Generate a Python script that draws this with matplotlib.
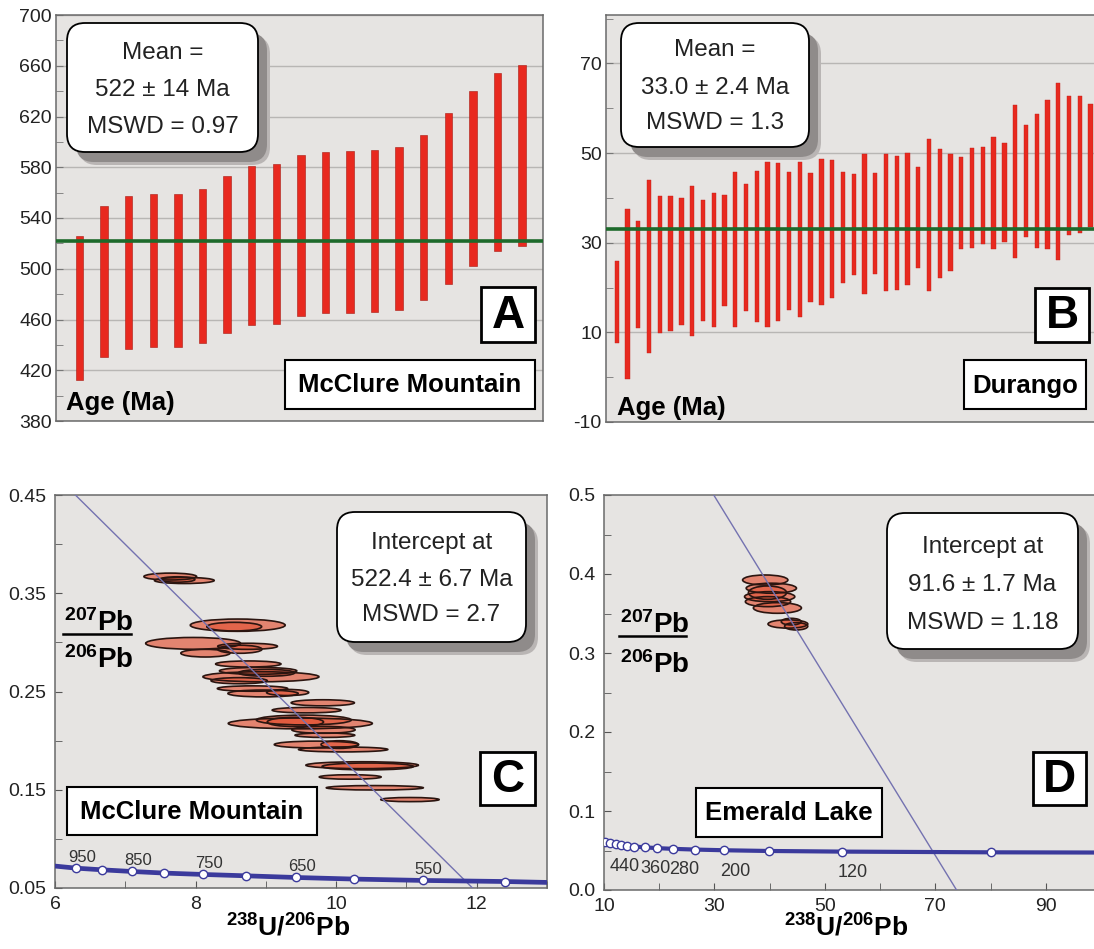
import matplotlib
matplotlib.use('Agg')
import matplotlib.pyplot as plt
from matplotlib.patches import FancyBboxPatch, Ellipse, Rectangle
from matplotlib.lines import Line2D
from matplotlib.transforms import Affine2D
from matplotlib.ticker import FixedLocator, FormatStrFormatter

plt.rcParams['font.family'] = ['Liberation Sans', 'DejaVu Sans']
plt.rcParams['mathtext.fontset'] = 'custom'
plt.rcParams['mathtext.rm'] = 'Liberation Sans:bold'
plt.rcParams['mathtext.bf'] = 'Liberation Sans:bold'
plt.rcParams['mathtext.default'] = 'bf'
plt.rcParams['axes.unicode_minus'] = False

# ---------------- data ----------------
# Panel A: McClure Mountain single-grain ages (Ma), 2-sigma ranges
a_low = [412.2, 430.2, 436.5, 438.1, 438.6, 441.8, 449.7, 455.8, 456.8, 462.9,
         465.0, 465.5, 465.8, 467.4, 475.3, 488.3, 502.5, 513.9, 518.3]
a_high = [525.7, 549.5, 557.4, 558.7, 558.7, 562.7, 573.3, 581.2, 582.2, 589.6,
          592.0, 593.1, 593.3, 596.0, 605.5, 622.4, 640.3, 654.6, 660.4]
a_mean = 522
a_yticks = [380, 420, 460, 500, 540, 580, 620, 660, 700]
a_yminor = [400, 440, 480, 520, 560, 600, 640, 680]

# Panel B: Durango ages (Ma)
b_low = [7.6, -0.3, 10.9, 5.3, 9.8, 10.2, 11.7, 9.2, 12.6, 11.3, 15.8, 11.1, 14.8, 12.2,
         11.2, 12.6, 14.9, 13.4, 16.7, 16.1, 17.7, 21.0, 22.9, 18.6, 23.0, 19.2, 19.5,
         20.5, 24.4, 19.3, 22.1, 23.6, 28.5, 28.9, 29.6, 28.5, 30.2, 26.6, 31.3, 28.9,
         28.5, 26.1, 31.7, 32.1, 33.5]
b_high = [25.9, 37.5, 34.9, 44.0, 40.5, 40.5, 39.9, 42.7, 39.5, 41.0, 40.7, 45.7, 43.1,
          46.1, 48.1, 47.7, 45.7, 48.1, 45.5, 48.7, 48.5, 45.7, 45.3, 49.8, 45.6, 49.7,
          49.4, 50.0, 47.0, 53.2, 50.9, 49.7, 49.1, 51.1, 51.3, 53.6, 52.2, 60.8, 56.2,
          58.8, 61.9, 65.7, 62.8, 62.7, 61.0]
b_mean = 33.0
b_yticks = [-10, 10, 30, 50, 70]
b_yminor = [0, 20, 40, 60, 80]

# Panel C: Tera-Wasserburg ellipses (238U/206Pb, 207Pb/206Pb, width, height)
c_ell_x = [7.64, 7.84, 7.74, 8.60, 8.55, 7.965, 8.74, 8.14, 8.63, 8.75, 8.93, 8.89, 9.01,
           8.62, 8.81, 8.96, 9.31, 9.81, 9.58, 9.49, 9.54, 9.42, 9.82, 9.84, 9.72, 10.10,
           10.05, 10.37, 10.45, 10.20, 10.55, 11.05]
c_ell_y = [0.367, 0.363, 0.364, 0.3175, 0.316, 0.299, 0.296, 0.289, 0.293, 0.278, 0.265,
           0.271, 0.269, 0.261, 0.253, 0.248, 0.249, 0.2385, 0.231, 0.2175, 0.221, 0.219,
           0.211, 0.2055, 0.196, 0.191, 0.196, 0.175, 0.1737, 0.163, 0.152, 0.140]
c_ell_w = [0.75, 0.85, 0.50, 1.35, 0.78, 1.35, 0.85, 0.70, 0.63, 0.93, 1.65, 1.10, 0.80,
           0.80, 1.00, 1.00, 0.60, 0.90, 0.98, 2.05, 1.35, 0.80, 0.90, 0.85, 1.20, 1.27,
           0.53, 1.60, 1.30, 0.88, 1.38, 0.83]
c_ell_h = [0.0070, 0.0062, 0.0055, 0.0125, 0.0088, 0.0120, 0.0062, 0.0078, 0.0082, 0.0062,
           0.0102, 0.0070, 0.0070, 0.0062, 0.0055, 0.0070, 0.0062, 0.0062, 0.0055, 0.0110,
           0.0100, 0.0095, 0.0070, 0.0045, 0.0070, 0.0050, 0.0078, 0.0070, 0.0070, 0.0045,
           0.0045, 0.0042]
c_disc_x = [6.29, 11.94]
c_disc_y = [0.45, 0.05]
c_curve_x = [5.96, 6.30, 6.67, 7.10, 7.55, 8.10, 8.72, 9.43, 10.25, 11.23, 12.40, 13.05]
c_curve_y = [0.0726, 0.0702, 0.0685, 0.0668, 0.0652, 0.0638, 0.0624, 0.0607, 0.0591,
             0.0577, 0.0566, 0.0556]
c_tick_age = [950, 900, 850, 800, 750, 700, 650, 600, 550, 500]
c_tick_x = [6.30, 6.67, 7.10, 7.55, 8.10, 8.72, 9.43, 10.25, 11.23, 12.40]
c_tick_y = [0.0702, 0.0685, 0.0668, 0.0652, 0.0638, 0.0624, 0.0607, 0.0591, 0.0577, 0.0566]
c_label_ages = [950, 850, 750, 650, 550]
c_xticks = [6, 8, 10, 12]
c_xminor = [7, 9, 11, 13]
c_yticks = [0.05, 0.15, 0.25, 0.35, 0.45]
c_yminor = [0.10, 0.20, 0.30, 0.40]

# Panel D: Emerald Lake
d_ell_x = [39.2, 40.3, 40.0, 39.7, 41.4, 39.6, 43.3, 43.9, 44.8]
d_ell_y = [0.3924, 0.382, 0.3713, 0.365, 0.357, 0.3764, 0.3367, 0.3397, 0.3338]
d_ell_w = [8.2, 9.1, 9.1, 8.2, 8.7, 6.9, 7.2, 3.6, 4.2]
d_ell_h = [0.0127, 0.0127, 0.0127, 0.0127, 0.0135, 0.0169, 0.0105, 0.0084, 0.0093]
d_disc_x = [29.87, 73.84]
d_disc_y = [0.5, 0.0]
d_tick_age = [600, 560, 520, 480, 440, 400, 360, 320, 280, 240, 200, 160, 120, 80]
d_tick_x = [10.2, 11.1, 12.1, 13.0, 14.1, 15.5, 17.4, 19.6, 22.5, 26.4, 31.8, 39.8, 53.1, 80.0]
d_tick_y = [0.0610, 0.0595, 0.0583, 0.0572, 0.0561, 0.0550, 0.0540, 0.0530, 0.0521,
            0.0512, 0.0503, 0.0494, 0.0486, 0.0477]
d_curve_x = d_tick_x + [101.0]
d_curve_y = d_tick_y + [0.0474]
d_label_ages = [440, 360, 280, 200, 120]
d_xticks = [10, 30, 50, 70, 90]
d_xminor = [20, 40, 60, 80, 100]
d_yticks = [0.0, 0.1, 0.2, 0.3, 0.4, 0.5]
d_yminor = [0.05, 0.15, 0.25, 0.35, 0.45]

# ---------------- figure ----------------
W, H, DPI = 1094, 949, 100
fig = plt.figure(figsize=(W / DPI, H / DPI), dpi=DPI)
fig.patch.set_facecolor('white')
PX = Affine2D().scale(1 / DPI, -1 / DPI).translate(0, H / DPI) + fig.dpi_scale_trans

BG = '#e6e4e2'
RED = '#e8291f'
GREEN = '#1d6a2b'
CONC = '#3b3a9c'
DISC = '#7472b0'
TXT = '#222222'
TICK_FS = 14


def add_ax(l, r, t, b):
    ax = fig.add_axes([l / W, 1 - b / H, (r - l) / W, (b - t) / H])
    ax.set_facecolor(BG)
    for s in ax.spines.values():
        s.set_color('#6a6a6a')
        s.set_linewidth(1.1)
    return ax


def info_box(x0, y0, x1, y1, lines, ys, fs=17.5):
    w, h = x1 - x0, y1 - y0
    for dx, dy, c in [(12, 13, '#b9b5b4'), (9, 10, '#8f8b8a')]:
        fig.add_artist(FancyBboxPatch((x0 + dx, y0 + dy), w, h,
                                      boxstyle='round,pad=0,rounding_size=18',
                                      transform=PX, fc=c, ec='none', zorder=5))
    fig.add_artist(FancyBboxPatch((x0, y0), w, h, boxstyle='round,pad=0,rounding_size=18',
                                  transform=PX, fc='white', ec='black', lw=1.3, zorder=6))
    for s, y in zip(lines, ys):
        fig.text((x0 + x1) / 2, y, s, transform=PX, ha='center', va='center',
                 fontsize=fs, color=TXT, zorder=7)


def rect_label(x0, y0, x1, y1, s, fs, lw):
    fig.add_artist(Rectangle((x0, y0), x1 - x0, y1 - y0, transform=PX, fc='white',
                             ec='black', lw=lw, zorder=5))
    fig.text((x0 + x1) / 2, (y0 + y1) / 2 + 1, s, transform=PX, ha='center', va='center',
             fontsize=fs, fontweight='bold', color='black', zorder=6)


def frac_label(x0, x1, yline, yb_top, yb_bot):
    xc = (x0 + x1) / 2
    fig.text(xc + 2, yb_top, r'$^{207}$Pb', transform=PX, ha='center', va='baseline',
             fontsize=20, fontweight='bold', zorder=6)
    fig.text(xc + 2, yb_bot, r'$^{206}$Pb', transform=PX, ha='center', va='baseline',
             fontsize=20, fontweight='bold', zorder=6)
    fig.add_artist(Line2D([x0, x1], [yline, yline], transform=PX, color='black', lw=1.8))


def draw_ellipses(ax, xs, ys, ws, hs):
    for x, y, w, h in zip(xs, ys, ws, hs):
        ax.add_patch(Ellipse((x, y), w, h, fc='#e2573a', alpha=0.68, ec='none', zorder=3))
        ax.add_patch(Ellipse((x, y), w, h, fc='none', ec='#2b1510', lw=1.2, zorder=3.5))


# ---- Panel A ----
axA = add_ax(56, 543, 15, 421)
xa = list(range(1, len(a_low) + 1))
axA.bar(xa, [h - l for l, h in zip(a_low, a_high)], bottom=a_low, width=0.3,
        color=RED, edgecolor='#a81a12', lw=0.4, zorder=3)
axA.axhline(a_mean, color=GREEN, lw=2.6, zorder=4)
axA.set_xlim(0.04, 19.85)
axA.set_ylim(380, 700)
axA.yaxis.set_major_locator(FixedLocator(a_yticks))
axA.yaxis.set_minor_locator(FixedLocator(a_yminor))
axA.yaxis.grid(True, which='major', color='#b8b6b4', lw=1)
axA.set_axisbelow(True)
axA.tick_params(axis='y', which='both', direction='in', length=5, color='#777',
                labelsize=TICK_FS, labelcolor=TXT, pad=3)
axA.tick_params(axis='x', bottom=False, labelbottom=False)
axA.text(0.02, 0.045, 'Age (Ma)', transform=axA.transAxes, fontsize=18.5,
         fontweight='bold', ha='left', va='center', zorder=6)

# ---- Panel B ----
axB = add_ax(606, 1097, 15, 422)
xb = list(range(1, len(b_low) + 1))
axB.bar(xb, [h - l for l, h in zip(b_low, b_high)], bottom=b_low, width=0.4,
        color=RED, edgecolor='#c0201a', lw=0.3, zorder=3)
axB.axhline(b_mean, color=GREEN, lw=2.6, zorder=4)
axB.set_xlim(0, 45.6)
axB.set_ylim(-10, 80.8)
axB.yaxis.set_major_locator(FixedLocator(b_yticks))
axB.yaxis.set_minor_locator(FixedLocator(b_yminor))
axB.yaxis.grid(True, which='major', color='#b8b6b4', lw=1)
axB.set_axisbelow(True)
axB.tick_params(axis='y', which='both', direction='in', length=5, color='#777',
                labelsize=TICK_FS, labelcolor=TXT, pad=3)
axB.tick_params(axis='x', bottom=False, labelbottom=False)
axB.text(0.023, 0.035, 'Age (Ma)', transform=axB.transAxes, fontsize=18.5,
         fontweight='bold', ha='left', va='center', zorder=6)

# ---- Panel C ----
axC = add_ax(55, 547, 495, 888)
axC.set_xlim(6, 13)
axC.set_ylim(0.05, 0.45)
draw_ellipses(axC, c_ell_x, c_ell_y, c_ell_w, c_ell_h)
axC.plot(c_disc_x, c_disc_y, color=DISC, lw=1.0, zorder=4)
axC.plot(c_curve_x, c_curve_y, color=CONC, lw=3.4, zorder=5, solid_capstyle='butt')
axC.plot(c_tick_x, c_tick_y, 'o', ms=6, mfc='white', mec=CONC, mew=1.0, zorder=6)
for age, x, y in zip(c_tick_age, c_tick_x, c_tick_y):
    if age in c_label_ages:
        axC.annotate(str(age), (x, y), xytext=(6, 11), textcoords='offset pixels',
                     ha='center', va='center', fontsize=12, color='#333333', zorder=7)
axC.xaxis.set_major_locator(FixedLocator(c_xticks))
axC.xaxis.set_minor_locator(FixedLocator(c_xminor))
axC.yaxis.set_major_locator(FixedLocator(c_yticks))
axC.yaxis.set_minor_locator(FixedLocator(c_yminor))
axC.yaxis.set_major_formatter(FormatStrFormatter('%.2f'))
axC.tick_params(which='both', direction='in', length=5, color='#555',
                labelsize=TICK_FS, labelcolor=TXT, pad=6)

# ---- Panel D ----
axD = add_ax(604, 1101, 495, 890)
axD.set_xlim(10, 100)
axD.set_ylim(0.0, 0.5)
draw_ellipses(axD, d_ell_x, d_ell_y, d_ell_w, d_ell_h)
axD.plot(d_disc_x, d_disc_y, color=DISC, lw=1.0, zorder=4)
axD.plot(d_curve_x, d_curve_y, color=CONC, lw=3.0, zorder=5, solid_capstyle='butt')
axD.plot(d_tick_x, d_tick_y, 'o', ms=6, mfc='white', mec=CONC, mew=1.0, zorder=6)
for age, x, y in zip(d_tick_age, d_tick_x, d_tick_y):
    if age in d_label_ages:
        dx = -2 if age == 440 else 11
        axD.annotate(str(age), (x, y), xytext=(dx, -21), textcoords='offset pixels',
                     ha='center', va='center', fontsize=13, color='#333333', zorder=7)
axD.xaxis.set_major_locator(FixedLocator(d_xticks))
axD.xaxis.set_minor_locator(FixedLocator(d_xminor))
axD.yaxis.set_major_locator(FixedLocator(d_yticks))
axD.yaxis.set_minor_locator(FixedLocator(d_yminor))
axD.yaxis.set_major_formatter(FormatStrFormatter('%.1f'))
axD.tick_params(which='both', direction='in', length=5, color='#555',
                labelsize=TICK_FS, labelcolor=TXT, pad=6)

# ---- overlays (pixel coordinates) ----
info_box(67, 23, 258, 152, ['Mean =', '522 ± 14 Ma', 'MSWD = 0.97'], [53, 90, 127])
info_box(621, 23, 809, 147, ['Mean =', '33.0 ± 2.4 Ma', 'MSWD = 1.3'], [50, 88, 123])
info_box(337, 512, 526, 642, ['Intercept at', '522.4 ± 6.7 Ma', 'MSWD = 2.7'],
         [543, 580, 615])
info_box(887, 513, 1078, 649, ['Intercept at', '91.6 ± 1.7 Ma', 'MSWD = 1.18'],
         [547, 585, 623])

rect_label(481, 287, 535, 342, 'A', 33, 2.0)
rect_label(1035, 288, 1089, 342, 'B', 33, 2.0)
rect_label(480, 752, 535, 805, 'C', 33, 2.0)
rect_label(1033, 752, 1086, 805, 'D', 33, 2.0)

rect_label(285, 360, 535, 409, 'McClure Mountain', 18.5, 1.5)
rect_label(964, 360, 1086, 409, 'Durango', 18.5, 1.5)
rect_label(67, 787, 317, 835, 'McClure Mountain', 18.5, 1.5)
rect_label(696, 788, 882, 837, 'Emerald Lake', 18.5, 1.5)

frac_label(63, 131, 634, 631, 668)
frac_label(619, 686, 636, 633, 673)

for xc in (288, 846):
    fig.text(xc, 936, r'$^{238}$U/$^{206}$Pb', transform=PX, ha='center',
             va='baseline', fontsize=19, fontweight='bold')

fig.savefig('out.png', dpi=DPI, facecolor='white')
